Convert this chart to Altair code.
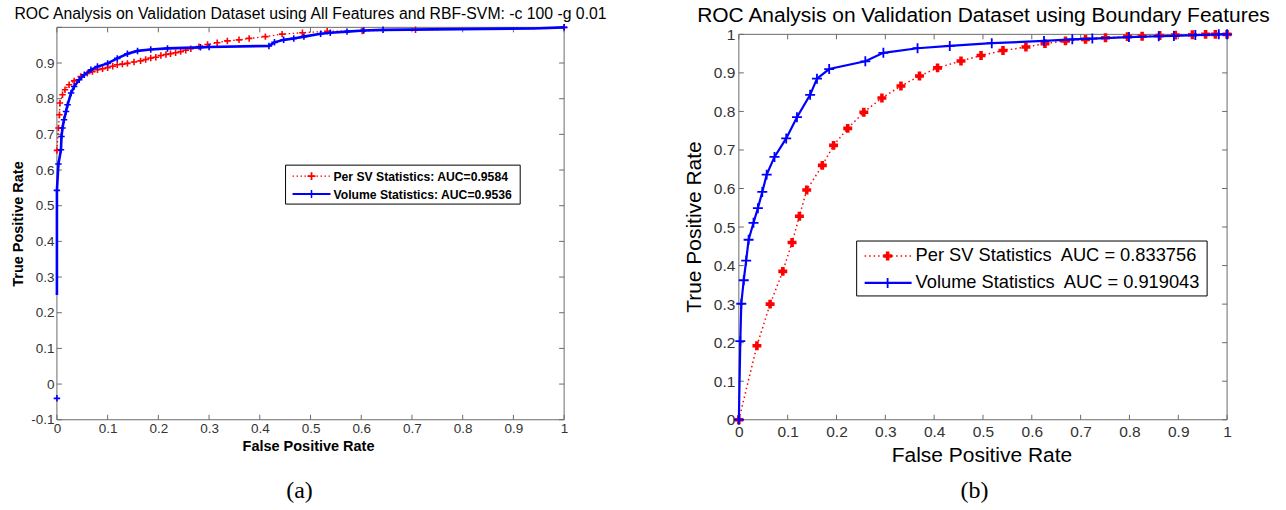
import altair as alt
import pandas as pd

FONT = "Liberation Sans"
SERIF = "Liberation Serif"
RED = "#ff0000"
BLUE = "#0000ff"
FRAME = "#6a6a6a"
TICKLAB = "#333333"
PLUS = "M-1,0L1,0M0,-1L0,1"

# ---------------- Panel (a) ----------------
a_title = "ROC Analysis on Validation Dataset using All Features and RBF-SVM: -c 100 -g 0.01"
a_xtitle = "False Positive Rate"
a_ytitle = "True Positive Rate"
a_caption = "(a)"
a_sv_label = "Per SV Statistics: AUC=0.9584"
a_vol_label = "Volume Statistics: AUC=0.9536"

a_sv_fpr = [0, 0.003, 0.005, 0.006, 0.011, 0.016, 0.024, 0.034, 0.047, 0.060,
            0.070, 0.080, 0.090, 0.100, 0.110, 0.119, 0.129, 0.139, 0.152, 0.165,
            0.175, 0.185, 0.195, 0.205, 0.215, 0.224, 0.234, 0.244, 0.254, 0.264,
            0.280, 0.297, 0.316, 0.336, 0.359, 0.379, 0.411, 0.444, 0.484, 0.533,
            0.602, 0.707, 1.0]
a_sv_tpr = [0.655, 0.718, 0.755, 0.788, 0.811, 0.825, 0.839, 0.850, 0.862, 0.871,
            0.876, 0.881, 0.884, 0.887, 0.891, 0.895, 0.897, 0.899, 0.903, 0.906,
            0.910, 0.914, 0.916, 0.921, 0.924, 0.926, 0.929, 0.932, 0.936, 0.940,
            0.946, 0.952, 0.957, 0.962, 0.965, 0.969, 0.974, 0.981, 0.985, 0.989,
            0.990, 0.993, 1.0]

a_vol_fpr = [0, 0, 0.003, 0.008, 0.009, 0.011, 0.014, 0.018, 0.021, 0.028,
             0.034, 0.044, 0.054, 0.067, 0.080, 0.100, 0.119, 0.139, 0.159, 0.185,
             0.218, 0.283, 0.300, 0.418, 0.429, 0.447, 0.467, 0.487, 0.520, 0.539,
             0.572, 0.605, 0.643, 0.940, 1.0]
a_vol_tpr = [0.25, 0.543, 0.617, 0.657, 0.694, 0.718, 0.741, 0.764, 0.783, 0.816,
             0.834, 0.853, 0.867, 0.881, 0.890, 0.899, 0.913, 0.926, 0.934, 0.938,
             0.941, 0.944, 0.945, 0.948, 0.958, 0.965, 0.969, 0.974, 0.982, 0.985,
             0.988, 0.991, 0.993, 0.997, 1.0]
a_vol_marked = [0, 1, 1, 1, 1, 1, 1, 1, 1, 1,
                1, 1, 1, 1, 1, 1, 1, 1, 1, 1,
                1, 1, 1, 1, 1, 1, 1, 1, 1, 1,
                1, 1, 1, 0, 1]
a_vol_extra_fpr = [0.0]
a_vol_extra_tpr = [-0.04]

a_xticks = [0, 0.1, 0.2, 0.3, 0.4, 0.5, 0.6, 0.7, 0.8, 0.9, 1]
a_yticks = [-0.1, 0, 0.1, 0.2, 0.3, 0.4, 0.5, 0.6, 0.7, 0.8, 0.9, 1]
a_ylabels = [-0.1, 0, 0.1, 0.2, 0.3, 0.4, 0.5, 0.6, 0.7, 0.8, 0.9]

# ---------------- Panel (b) ----------------
b_title = "ROC Analysis on Validation Dataset using Boundary Features"
b_xtitle = "False Positive Rate"
b_ytitle = "True Positive Rate"
b_caption = "(b)"
b_sv_label = "Per SV Statistics\u00a0 AUC = 0.833756"
b_vol_label = "Volume Statistics\u00a0 AUC = 0.919043"

b_sv_fpr = [0, 0.037, 0.064, 0.090, 0.109, 0.124, 0.139, 0.171, 0.194, 0.223,
            0.256, 0.293, 0.332, 0.370, 0.407, 0.455, 0.496, 0.541, 0.588, 0.627,
            0.669, 0.710, 0.751, 0.796, 0.826, 0.862, 0.894, 0.929, 0.956, 0.976, 1.0]
b_sv_tpr = [0, 0.192, 0.300, 0.385, 0.460, 0.528, 0.596, 0.660, 0.712, 0.756,
            0.798, 0.835, 0.866, 0.892, 0.913, 0.931, 0.945, 0.958, 0.967, 0.976,
            0.983, 0.987, 0.991, 0.994, 0.995, 0.997, 0.998, 0.999, 1.0, 1.0, 1.0]

b_vol_fpr = [0, 0.003, 0.005, 0.010, 0.015, 0.020, 0.030, 0.039, 0.048, 0.057,
             0.073, 0.097, 0.119, 0.146, 0.160, 0.185, 0.259, 0.296, 0.366, 0.432,
             0.518, 0.625, 0.683, 0.724, 0.799, 0.860, 0.891, 0.935, 0.983, 1.0]
b_vol_tpr = [0, 0.204, 0.301, 0.362, 0.413, 0.467, 0.511, 0.549, 0.591, 0.636,
             0.682, 0.730, 0.785, 0.843, 0.885, 0.910, 0.930, 0.952, 0.964, 0.970,
             0.977, 0.983, 0.987, 0.989, 0.993, 0.995, 0.996, 0.998, 1.0, 1.0]

b_ticks = [0, 0.1, 0.2, 0.3, 0.4, 0.5, 0.6, 0.7, 0.8, 0.9, 1]

# ---------------- geometry ----------------
WA, HA = 508, 393
WB, HB = 489, 393
B_UNIT = 386  # pixels per 1.0 on panel (b) y axis
B_YMAX = HB / B_UNIT
B_TOP = HB - B_UNIT

LABEL_EXPR = "datum.value < 0 ? '-' + format(-datum.value, '~g') : format(datum.value, '~g')"


def one(**cols):
    return pd.DataFrame(cols)


def text(txt, x, y, size, weight="normal", font=FONT, angle=0, align="center", color="black"):
    return alt.Chart(one(t=[txt])).mark_text(
        font=font, fontSize=size, fontWeight=weight, angle=angle, align=align,
        baseline="middle", color=color
    ).encode(x=alt.value(x), y=alt.value(y), text="t:N")


def frame_and_ticks(xs, ys, xaxis, yaxis, xticks, yticks, W, H, top, tl):
    layers = []
    layers.append(alt.Chart(one(d=[0])).mark_rect(filled=False, color=FRAME, strokeWidth=1).encode(
        x=alt.value(0), x2=alt.value(W), y=alt.value(top), y2=alt.value(H)))
    dx = one(t=xticks)
    dy = one(t=yticks)
    X = alt.X("t:Q", scale=xs, axis=xaxis)
    Y = alt.Y("t:Q", scale=ys, axis=yaxis)
    layers.append(alt.Chart(dx).mark_rule(color=FRAME).encode(x=X, y=alt.value(H), y2=alt.value(H - tl)))
    layers.append(alt.Chart(dx).mark_rule(color=FRAME).encode(x=X, y=alt.value(top), y2=alt.value(top + tl)))
    layers.append(alt.Chart(dy).mark_rule(color=FRAME).encode(y=Y, x=alt.value(0), x2=alt.value(tl)))
    layers.append(alt.Chart(dy).mark_rule(color=FRAME).encode(y=Y, x=alt.value(W), x2=alt.value(W - tl)))
    return layers


def curve_df(fpr, tpr, marked=None):
    d = pd.DataFrame({"fpr": fpr, "tpr": tpr})
    d["i"] = range(len(d))
    d["m"] = marked if marked is not None else [1] * len(d)
    return d


# ---------------- Panel (a) chart ----------------
a_xs = alt.Scale(domain=[0, 1], nice=False, zero=False)
a_ys = alt.Scale(domain=[-0.1, 1.0], nice=False, zero=False)
a_xaxis = alt.Axis(values=a_xticks, domain=False, ticks=False, grid=False, title=None,
                   labelFont=FONT, labelFontSize=13.5, labelColor=TICKLAB, labelPadding=2,
                   labelFlush=False, labelOverlap=False, labelExpr=LABEL_EXPR)
a_yaxis = alt.Axis(values=a_ylabels, domain=False, ticks=False, grid=False, title=None,
                   labelFont=FONT, labelFontSize=13.5, labelColor=TICKLAB, labelPadding=3,
                   labelFlush=False, labelOverlap=False, labelExpr=LABEL_EXPR)

aX = alt.X("fpr:Q", scale=a_xs, axis=a_xaxis)
aY = alt.Y("tpr:Q", scale=a_ys, axis=a_yaxis)

a_sv = curve_df(a_sv_fpr, a_sv_tpr)
a_vol = curve_df(a_vol_fpr, a_vol_tpr, a_vol_marked)
a_extra = curve_df(a_vol_extra_fpr, a_vol_extra_tpr)

a_layers = [
    # whole-canvas bounds (invisible)
    alt.Chart(one(d=[0])).mark_rule(strokeOpacity=0).encode(
        x=alt.value(-56), x2=alt.value(1230), y=alt.value(-26), y2=alt.value(484)),
]
a_layers += frame_and_ticks(a_xs, a_ys, a_xaxis, a_yaxis, a_xticks, a_yticks, WA, HA, 0, 5)
a_layers += [
    alt.Chart(a_sv).mark_line(color=RED, strokeWidth=1.3, strokeDash=[1.5, 2.5]).encode(x=aX, y=aY, order="i:Q"),
    alt.Chart(a_sv).mark_point(shape=PLUS, filled=False, color=RED, strokeWidth=1.6, size=42, opacity=1).encode(x=aX, y=aY),
    alt.Chart(a_vol).mark_line(color=BLUE, strokeWidth=2.6).encode(x=aX, y=aY, order="i:Q"),
    alt.Chart(a_vol).transform_filter("datum.m == 1").mark_point(
        shape=PLUS, filled=False, color=BLUE, strokeWidth=1.6, size=42, opacity=1).encode(x=aX, y=aY),
    alt.Chart(a_extra).mark_point(shape=PLUS, filled=False, color=BLUE, strokeWidth=1.6, size=42, opacity=1).encode(x=aX, y=aY),
    # legend
    alt.Chart(one(d=[0])).mark_rect(fill="white", stroke="black", strokeWidth=1).encode(
        x=alt.value(229), x2=alt.value(464), y=alt.value(138), y2=alt.value(177)),
    alt.Chart(one(d=[0])).mark_rule(color=RED, strokeWidth=1.3, strokeDash=[1.5, 2.5]).encode(
        x=alt.value(236), x2=alt.value(274), y=alt.value(149)),
    alt.Chart(one(d=[0])).mark_point(shape=PLUS, filled=False, color=RED, strokeWidth=1.8, size=64, opacity=1).encode(
        x=alt.value(255), y=alt.value(149)),
    alt.Chart(one(d=[0])).mark_rule(color=BLUE, strokeWidth=2).encode(
        x=alt.value(236), x2=alt.value(274), y=alt.value(167)),
    alt.Chart(one(d=[0])).mark_point(shape=PLUS, filled=False, color=BLUE, strokeWidth=1.5, size=64, opacity=1).encode(
        x=alt.value(255), y=alt.value(167)),
    text(a_sv_label, 277, 149.5, 12.2, weight="bold", align="left"),
    text(a_vol_label, 277, 167.5, 12.2, weight="bold", align="left"),
    # titles
    text(a_title, 254, -13, 15.8),
    text(a_xtitle, 252, 420.5, 14.5, weight="bold"),
    text(a_ytitle, -37.5, 197, 14.5, weight="bold", angle=270),
    text(a_caption, 243, 464, 24, font=SERIF),
]
left = alt.layer(*a_layers).properties(width=WA, height=HA)

# ---------------- Panel (b) chart ----------------
b_xs = alt.Scale(domain=[0, 1], nice=False, zero=False)
b_ys = alt.Scale(domain=[0, B_YMAX], nice=False, zero=False)
b_xaxis = alt.Axis(values=b_ticks, domain=False, ticks=False, grid=False, title=None,
                   labelFont=FONT, labelFontSize=15.5, labelColor=TICKLAB, labelPadding=5,
                   labelFlush=False, labelOverlap=False, labelExpr=LABEL_EXPR)
b_yaxis = alt.Axis(values=b_ticks, domain=False, ticks=False, grid=False, title=None,
                   labelFont=FONT, labelFontSize=15.5, labelColor=TICKLAB, labelPadding=4,
                   labelFlush=False, labelOverlap=False, labelExpr=LABEL_EXPR)
bX = alt.X("fpr:Q", scale=b_xs, axis=b_xaxis)
bY = alt.Y("tpr:Q", scale=b_ys, axis=b_yaxis)

b_sv = curve_df(b_sv_fpr, b_sv_tpr)
b_vol = curve_df(b_vol_fpr, b_vol_tpr)

b_layers = frame_and_ticks(b_xs, b_ys, b_xaxis, b_yaxis, b_ticks, b_ticks, WB, HB, B_TOP, 5)
b_layers += [
    alt.Chart(b_sv).mark_line(color=RED, strokeWidth=1.5, strokeDash=[1.5, 3]).encode(x=bX, y=bY, order="i:Q"),
    alt.Chart(b_sv).mark_point(shape="cross", filled=True, color=RED, size=80, opacity=1).encode(x=bX, y=bY),
    alt.Chart(b_vol).mark_line(color=BLUE, strokeWidth=2.2).encode(x=bX, y=bY, order="i:Q"),
    alt.Chart(b_vol).mark_point(shape=PLUS, filled=False, color=BLUE, strokeWidth=1.8, size=100, opacity=1).encode(x=bX, y=bY),
    # legend
    alt.Chart(one(d=[0])).mark_rect(fill="white", stroke="black", strokeWidth=1).encode(
        x=alt.value(118), x2=alt.value(469), y=alt.value(214), y2=alt.value(269)),
    alt.Chart(one(d=[0])).mark_rule(color=RED, strokeWidth=1.5, strokeDash=[1.5, 3]).encode(
        x=alt.value(126), x2=alt.value(173), y=alt.value(229)),
    alt.Chart(one(d=[0])).mark_point(shape="cross", filled=True, color=RED, size=80, opacity=1).encode(
        x=alt.value(149), y=alt.value(229)),
    alt.Chart(one(d=[0])).mark_rule(color=BLUE, strokeWidth=2.2).encode(
        x=alt.value(126), x2=alt.value(173), y=alt.value(256)),
    alt.Chart(one(d=[0])).mark_point(shape=PLUS, filled=False, color=BLUE, strokeWidth=1.8, size=100, opacity=1).encode(
        x=alt.value(149), y=alt.value(256)),
    text(b_sv_label, 177, 229.5, 18.3, align="left"),
    text(b_vol_label, 177, 256.5, 18.3, align="left"),
    # titles
    text(b_title, 245, -11, 21),
    text(b_xtitle, 243.5, 429, 21),
    text(b_ytitle, -43.5, 200, 21, angle=270),
    text(b_caption, 236, 464, 24, font=SERIF),
]
right = alt.layer(*b_layers).properties(width=WB, height=HB)

chart = alt.hconcat(left, right, spacing=175, bounds="flush").properties(
    padding=0, background="white"
).configure_view(stroke="transparent")

chart.save("out.html", embed_options={"renderer": "svg", "actions": False})
